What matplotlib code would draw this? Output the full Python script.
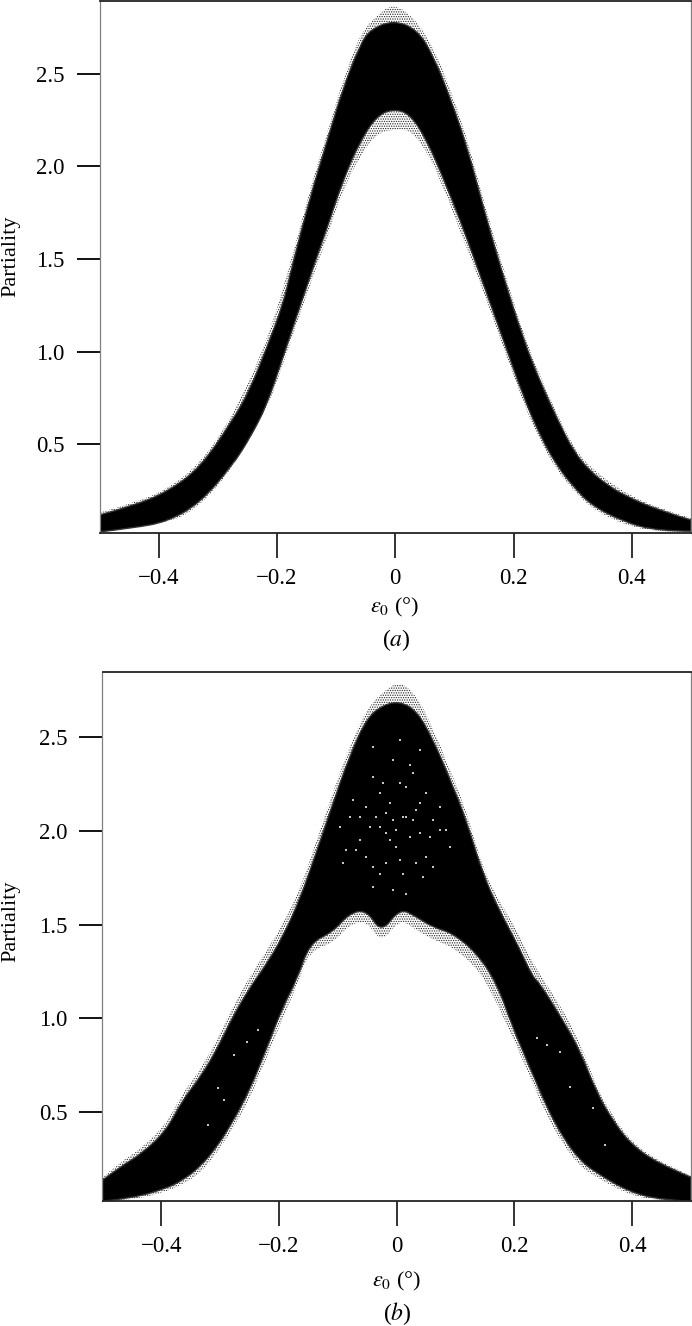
import numpy as np
import matplotlib
matplotlib.use("Agg")
import matplotlib.pyplot as plt
from matplotlib.path import Path
from matplotlib.patches import PathPatch

plt.rcParams['font.family'] = ['Liberation Serif', 'DejaVu Serif']
plt.rcParams['mathtext.fontset'] = 'stix'
plt.rcParams['hatch.linewidth'] = 0.6

W, H = 692, 1326

x_ticks = [-0.4, -0.2, 0, 0.2, 0.4]
x_tick_labels = ['\u22120.4', '\u22120.2', '0', '0.2', '0.4']
y_ticks = [0.5, 1.0, 1.5, 2.0, 2.5]
y_tick_labels = ['0.5', '1.0', '1.5', '2.0', '2.5']

# Panel (a): dense band edges
a_up_x = [-0.5, -0.444, -0.386, -0.33, -0.275, -0.246, -0.217, -0.19, -0.175, -0.144, -0.115, -0.088, -0.059, -0.042, -0.003, 0.037, 0.064, 0.093, 0.122, 0.149, 0.178, 0.217, 0.246, 0.275, 0.302, 0.331, 0.359, 0.386, 0.444, 0.5]
a_up_y = [0.117, 0.166, 0.241, 0.371, 0.629, 0.791, 1.023, 1.25, 1.454, 1.832, 2.139, 2.425, 2.66, 2.74, 2.79, 2.74, 2.6, 2.371, 2.101, 1.778, 1.454, 1.061, 0.829, 0.629, 0.457, 0.349, 0.279, 0.225, 0.144, 0.09]
a_lo_x = [-0.5, -0.444, -0.386, -0.33, -0.275, -0.246, -0.217, -0.19, -0.139, -0.115, -0.088, -0.059, -0.031, -0.003, 0.025, 0.054, 0.081, 0.11, 0.139, 0.183, 0.217, 0.246, 0.275, 0.302, 0.331, 0.386, 0.444, 0.5]
a_lo_y = [0.026, 0.047, 0.08, 0.182, 0.387, 0.532, 0.71, 0.969, 1.454, 1.67, 1.93, 2.139, 2.274, 2.311, 2.284, 2.139, 1.939, 1.708, 1.454, 1.061, 0.753, 0.538, 0.376, 0.268, 0.171, 0.08, 0.031, 0.03]

# Panel (a): outer limit of the sparse points
a_fu_x = [-0.5, -0.444, -0.386, -0.33, -0.275, -0.217, -0.175, -0.144, -0.115, -0.088, -0.059, -0.03, -0.003, 0.03, 0.064, 0.093, 0.122, 0.149, 0.178, 0.217, 0.246, 0.275, 0.302, 0.331, 0.386, 0.444, 0.5]
a_fu_y = [0.13, 0.18, 0.255, 0.395, 0.65, 1.05, 1.5, 1.88, 2.18, 2.47, 2.72, 2.82, 2.88, 2.81, 2.65, 2.42, 2.15, 1.82, 1.5, 1.09, 0.86, 0.65, 0.48, 0.37, 0.24, 0.155, 0.1]
a_fl_x = [-0.5, -0.386, -0.33, -0.275, -0.217, -0.19, -0.139, -0.115, -0.088, -0.059, -0.031, -0.003, 0.025, 0.054, 0.081, 0.11, 0.139, 0.183, 0.217, 0.246, 0.275, 0.302, 0.331, 0.386, 0.444, 0.5]
a_fl_y = [0.025, 0.065, 0.165, 0.37, 0.69, 0.93, 1.41, 1.62, 1.88, 2.06, 2.18, 2.2, 2.2, 2.08, 1.89, 1.65, 1.41, 1.02, 0.72, 0.51, 0.35, 0.25, 0.155, 0.065, 0.025, 0.025]

# Panel (b): dense band edges
b_up_x = [-0.5, -0.471, -0.432, -0.391, -0.364, -0.335, -0.306, -0.279, -0.25, -0.221, -0.194, -0.165, -0.136, -0.109, -0.08, -0.051, -0.024, 0.005, 0.034, 0.061, 0.09, 0.119, 0.146, 0.175, 0.204, 0.231, 0.243, 0.282, 0.311, 0.34, 0.367, 0.396, 0.442, 0.5]
b_up_y = [0.136, 0.205, 0.28, 0.403, 0.563, 0.68, 0.83, 1.006, 1.161, 1.29, 1.433, 1.63, 1.89, 2.14, 2.4, 2.6, 2.67, 2.69, 2.64, 2.49, 2.28, 2.05, 1.77, 1.57, 1.401, 1.219, 1.187, 0.99, 0.83, 0.6, 0.456, 0.334, 0.227, 0.152]
b_lo_x = [-0.5, -0.449, -0.391, -0.364, -0.335, -0.306, -0.279, -0.25, -0.221, -0.194, -0.17, -0.148, -0.109, -0.08, -0.051, -0.026, 0.005, 0.034, 0.061, 0.095, 0.136, 0.17, 0.197, 0.226, 0.255, 0.282, 0.311, 0.34, 0.396, 0.452, 0.5]
b_lo_y = [0.024, 0.04, 0.093, 0.136, 0.205, 0.312, 0.446, 0.616, 0.84, 1.059, 1.203, 1.401, 1.459, 1.561, 1.577, 1.454, 1.587, 1.54, 1.486, 1.454, 1.347, 1.187, 0.952, 0.739, 0.526, 0.366, 0.243, 0.173, 0.072, 0.03, 0.024]

# Panel (b): outer limit of the sparse points
b_fu_x = [-0.5, -0.471, -0.432, -0.391, -0.364, -0.335, -0.306, -0.279, -0.25, -0.221, -0.194, -0.165, -0.136, -0.109, -0.08, -0.051, -0.024, 0.005, 0.034, 0.061, 0.09, 0.119, 0.146, 0.175, 0.204, 0.231, 0.282, 0.311, 0.34, 0.367, 0.396, 0.442, 0.5]
b_fu_y = [0.15, 0.23, 0.31, 0.44, 0.6, 0.72, 0.88, 1.06, 1.22, 1.36, 1.5, 1.68, 1.95, 2.2, 2.45, 2.65, 2.74, 2.8, 2.72, 2.55, 2.33, 2.1, 1.8, 1.62, 1.47, 1.29, 1.05, 0.87, 0.63, 0.48, 0.35, 0.24, 0.16]
b_fl_x = [-0.5, -0.449, -0.391, -0.364, -0.335, -0.306, -0.279, -0.25, -0.221, -0.194, -0.17, -0.148, -0.109, -0.08, -0.051, -0.026, 0.005, 0.034, 0.061, 0.095, 0.136, 0.163, 0.197, 0.226, 0.255, 0.282, 0.311, 0.34, 0.396, 0.452, 0.5]
b_fl_y = [0.024, 0.03, 0.075, 0.115, 0.17, 0.28, 0.41, 0.57, 0.79, 1.0, 1.17, 1.36, 1.4, 1.5, 1.52, 1.4, 1.53, 1.47, 1.42, 1.38, 1.27, 1.13, 0.9, 0.69, 0.48, 0.33, 0.21, 0.15, 0.055, 0.025, 0.024]

# Panel (b): white specks inside the dense band
speck_x = [-0.04, -0.029, 0.005, 0.022, 0.011, -0.006, 0.033, -0.018, -0.063, -0.08, -0.091, -0.052, -0.029, 0.011, 0.05, 0.073, 0.062, 0.084, -0.001, 0.022, -0.012, -0.052, 0.016, 0.039, -0.035, -0.069, -0.04, 0.005, 0.033, 0.062, -0.018, -0.086, -0.04, -0.006, 0.045, 0.016, -0.023, 0.028, -0.006, 0.005, -0.04, 0.039, -0.063, -0.018, 0.056, 0.09, -0.097, -0.074, -0.001, 0.016, 0.028, -0.012, -0.029, -0.046, 0.039, 0.073, 0.05, -0.255, -0.276, -0.304, -0.293, -0.321, -0.236, 0.238, 0.255, 0.294, 0.277, 0.333, 0.354]
speck_y = [2.288, 2.199, 2.253, 2.351, 2.075, 2.057, 2.11, 1.986, 1.95, 2.075, 1.826, 1.861, 1.772, 1.772, 1.861, 2.004, 2.057, 2.004, 1.915, 1.968, 2.146, 2.128, 2.235, 2.146, 2.075, 1.897, 1.808, 1.843, 1.826, 1.808, 1.826, 1.897, 1.701, 1.683, 1.754, 1.665, 2.253, 2.306, 2.377, 2.484, 2.448, 2.431, 2.075, 2.093, 1.968, 1.915, 2.021, 2.164, 2.004, 2.075, 2.057, 1.95, 2.021, 2.021, 1.986, 2.128, 2.199, 0.872, 0.803, 0.627, 0.563, 0.43, 0.936, 0.894, 0.856, 0.632, 0.819, 0.52, 0.323]

fig = plt.figure(figsize=(W / 100, H / 100), dpi=100)


def make_axes(l, r, t, b):
    return fig.add_axes([l / W, 1 - b / H, (r - l) / W, (b - t) / H])


def curve(xs, ys, first):
    """Quadratic B-spline run through the read points."""
    pts = np.column_stack([xs, ys])
    verts = [pts[0]]
    codes = [first]
    for i in range(1, len(pts) - 1):
        end = pts[i + 1] if i == len(pts) - 2 else (pts[i] + pts[i + 1]) / 2
        verts += [pts[i], end]
        codes += [Path.CURVE3, Path.CURVE3]
    return verts, codes


def outline(ux, uy, lx, ly):
    v1, c1 = curve(ux, uy, Path.MOVETO)
    v2, c2 = curve(lx[::-1], ly[::-1], Path.LINETO)
    v = v1 + v2 + [v1[0]]
    c = c1 + c2 + [Path.CLOSEPOLY]
    return Path(v, c)


def band(ax, ux, uy, lx, ly, fux, fuy, flx, fly):
    ax.add_patch(PathPatch(outline(fux, fuy, flx, fly), facecolor='white',
                           edgecolor='#222222', hatch='.......', linewidth=0, zorder=1))
    ax.add_patch(PathPatch(outline(ux, uy, lx, ly), facecolor='black',
                           edgecolor='#333333', linewidth=1.0, zorder=2))


def style(ax, ylim):
    ax.set_xlim(-0.5, 0.5)
    ax.set_ylim(*ylim)
    ax.set_xticks(x_ticks, x_tick_labels)
    ax.set_yticks(y_ticks, y_tick_labels)
    ax.tick_params(axis='x', direction='out', length=18, width=1.2, pad=7, labelsize=16.5, color='#111111')
    ax.tick_params(axis='y', direction='out', length=16.5, width=1.4, pad=8.5, labelsize=16.5, color='#111111')
    for side in ('left', 'right'):
        ax.spines[side].set_color('#808080')
        ax.spines[side].set_linewidth(0.9)
    for side in ('top', 'bottom'):
        ax.spines[side].set_color('#222222')
        ax.spines[side].set_linewidth(1.3)
    for sp in ax.spines.values():
        sp.set_zorder(5)


def label(px, py, s, **kw):
    fig.text(px / W, 1 - py / H, s, ha='center', va='center', **kw)


ax_a = make_axes(99.5, 691, 1, 533)
band(ax_a, a_up_x, a_up_y, a_lo_x, a_lo_y, a_fu_x, a_fu_y, a_fl_x, a_fl_y)
style(ax_a, (0.02, 2.894))

ax_b = make_axes(102.5, 691, 672, 1201)
band(ax_b, b_up_x, b_up_y, b_lo_x, b_lo_y, b_fu_x, b_fu_y, b_fl_x, b_fl_y)
ax_b.scatter(speck_x, speck_y, s=3.0, color='#c4c4c4', linewidths=0, marker='s', zorder=3)
style(ax_b, (0.025, 2.847))

label(11, 256, 'Partiality', rotation=90, fontsize=16)
label(11, 921, 'Partiality', rotation=90, fontsize=16)
label(395, 607, r'$\varepsilon_0$ (°)', fontsize=16)
label(397, 1281, r'$\varepsilon_0$ (°)', fontsize=16)
label(396, 640, r'($\mathit{a}$)', fontsize=17)
label(397, 1314, r'($\mathit{b}$)', fontsize=17)

fig.savefig('out.png', dpi=100)
